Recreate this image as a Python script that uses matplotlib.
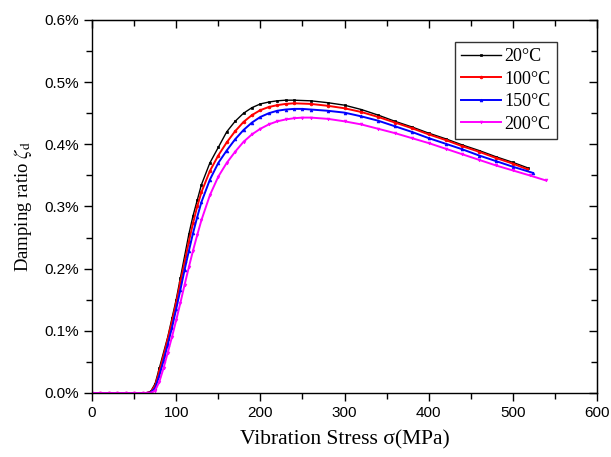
import matplotlib
matplotlib.use("Agg")
import matplotlib.pyplot as plt
from matplotlib.ticker import MultipleLocator, FuncFormatter

# ---- data (damping ratio in %) ----
x_20 = [0, 10, 20, 30, 40, 50, 60, 65, 70, 75, 80, 85, 90, 95, 100, 105, 110, 115, 120, 125, 130,
        140, 150, 160, 170, 180, 190, 200, 210, 220, 230, 240, 260, 280, 300, 320, 340, 360,
        380, 400, 420, 440, 460, 480, 500, 518]
y_20 = [0, 0, 0, 0, 0, 0, 0, 0, 0.003, 0.015, 0.04, 0.065, 0.09, 0.12, 0.15, 0.185, 0.22, 0.255,
        0.285, 0.31, 0.335, 0.37, 0.395, 0.42, 0.437, 0.45, 0.459, 0.465, 0.468, 0.47, 0.471,
        0.471, 0.470, 0.467, 0.463, 0.456, 0.447, 0.437, 0.428, 0.418, 0.409, 0.399, 0.390,
        0.380, 0.371, 0.362]

x_100 = [0, 10, 20, 30, 40, 50, 60, 65, 70, 75, 80, 85, 90, 95, 100, 105, 110, 115, 120, 125, 130,
         140, 150, 160, 170, 180, 190, 200, 210, 220, 230, 240, 260, 280, 300, 320, 340, 360,
         380, 400, 420, 440, 460, 480, 500, 517]
y_100 = [0, 0, 0, 0, 0, 0, 0, 0, 0.002, 0.012, 0.035, 0.06, 0.087, 0.115, 0.145, 0.178, 0.21,
         0.243, 0.273, 0.3, 0.323, 0.357, 0.382, 0.403, 0.421, 0.436, 0.447, 0.455, 0.46, 0.463,
         0.465, 0.466, 0.465, 0.462, 0.458, 0.452, 0.444, 0.435, 0.426, 0.416, 0.407, 0.397,
         0.388, 0.378, 0.369, 0.360]

x_150 = [0, 10, 20, 30, 40, 50, 60, 65, 70, 75, 80, 85, 90, 95, 100, 105, 110, 115, 120, 125, 130,
         140, 150, 160, 170, 180, 190, 200, 210, 220, 230, 240, 250, 260, 280, 300, 320, 340,
         360, 380, 400, 420, 440, 460, 480, 500, 524]
y_150 = [0, 0, 0, 0, 0, 0, 0, 0, 0.001, 0.008, 0.028, 0.052, 0.078, 0.105, 0.135, 0.166, 0.198,
         0.228, 0.257, 0.283, 0.307, 0.343, 0.37, 0.39, 0.408, 0.423, 0.435, 0.444, 0.45, 0.454,
         0.456, 0.457, 0.457, 0.456, 0.454, 0.451, 0.445, 0.438, 0.429, 0.42, 0.41, 0.401,
         0.392, 0.382, 0.373, 0.364, 0.354]

x_200 = [0, 10, 20, 30, 40, 50, 60, 65, 70, 75, 80, 85, 90, 95, 100, 105, 110, 115, 120, 125, 130,
         140, 150, 160, 170, 180, 190, 200, 210, 220, 230, 240, 250, 260, 280, 300, 320, 340,
         360, 380, 400, 420, 440, 460, 480, 500, 520, 539]
y_200 = [0, 0, 0, 0, 0, 0, 0, 0, 0, 0.004, 0.018, 0.04, 0.065, 0.09, 0.117, 0.145, 0.174, 0.202,
         0.229, 0.254, 0.278, 0.318, 0.348, 0.37, 0.388, 0.404, 0.416, 0.425, 0.432, 0.437,
         0.44, 0.442, 0.443, 0.443, 0.441, 0.437, 0.432, 0.425, 0.418, 0.41, 0.402, 0.393,
         0.384, 0.375, 0.366, 0.358, 0.35, 0.342]

labels = ["20°C", "100°C", "150°C", "200°C"]
colors = ["black", "red", "blue", "magenta"]
markers = ["s", "o", "^", "v"]
series = [(x_20, y_20), (x_100, y_100), (x_150, y_150), (x_200, y_200)]

plt.rcParams["mathtext.fontset"] = "stix"

fig = plt.figure(figsize=(6.11, 4.57), dpi=100)
ax = fig.add_axes([92 / 611, 1 - 393 / 457, (597 - 92) / 611, (393 - 20) / 457])

lws = [1.0, 1.4, 1.4, 1.4]
for (xs, ys), lab, c, m, lw in zip(series, labels, colors, markers, lws):
    ax.plot(xs, ys, color=c, lw=lw, marker=m, ms=2.0, mew=0.5, label=lab)

ax.set_xlim(0, 600)
ax.set_ylim(0, 0.6)
ax.xaxis.set_major_locator(MultipleLocator(100))
ax.xaxis.set_minor_locator(MultipleLocator(50))
ax.yaxis.set_major_locator(MultipleLocator(0.1))
ax.yaxis.set_minor_locator(MultipleLocator(0.05))
ax.yaxis.set_major_formatter(FuncFormatter(lambda v, p: f"{v:.1f}%"))

tick_font = "Liberation Sans"
ax.tick_params(axis="both", which="major", labelsize=11, length=6, width=1, direction="out")
ax.tick_params(axis="both", which="minor", length=4, width=1, direction="out")

# inward ticks on top and right
axt = ax.secondary_xaxis("top")
axt.xaxis.set_major_locator(MultipleLocator(100))
axt.xaxis.set_minor_locator(MultipleLocator(50))
axt.tick_params(which="major", direction="in", length=6, width=1, labeltop=False)
axt.tick_params(which="minor", direction="in", length=4, width=1)
axr = ax.secondary_yaxis("right")
axr.yaxis.set_major_locator(MultipleLocator(0.1))
axr.yaxis.set_minor_locator(MultipleLocator(0.05))
axr.tick_params(which="major", direction="in", length=6, width=1, labelright=False)
axr.tick_params(which="minor", direction="in", length=4, width=1)

for s in ax.spines.values():
    s.set_linewidth(1)

ax.set_xlabel("Vibration Stress σ(MPa)", fontfamily="Liberation Serif", fontsize=15.5, labelpad=7)
ax.set_ylabel(r"Damping ratio $\zeta_{\rm d}$", fontfamily="Liberation Serif", fontsize=13.5, labelpad=7)

for lab in ax.get_xticklabels() + ax.get_yticklabels():
    lab.set_fontfamily(tick_font)

leg = ax.legend(loc="upper right", bbox_to_anchor=(0.921, 0.941),
                prop={"family": "Liberation Serif", "size": 13},
                frameon=True, fancybox=False, edgecolor="black", handlelength=2.2, numpoints=1,
                borderpad=0.35, labelspacing=0.3, handletextpad=0.2, borderaxespad=0)
leg.get_frame().set_linewidth(1)

fig.savefig("out.png", dpi=100)
